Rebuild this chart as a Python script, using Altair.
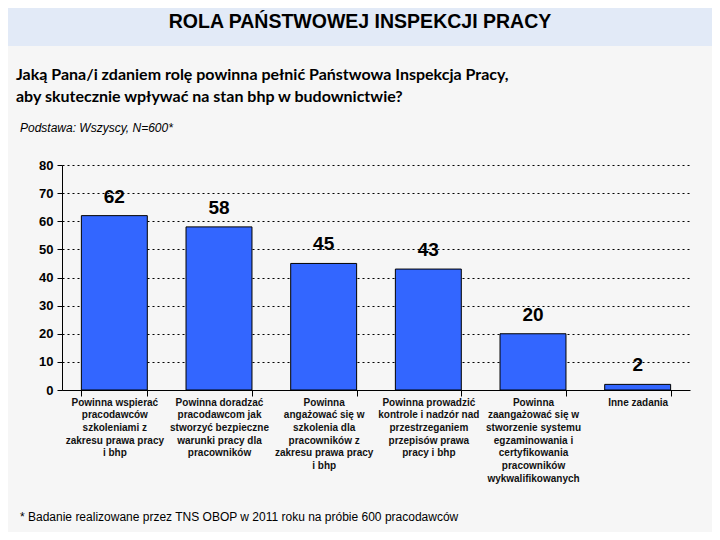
import altair as alt
import pandas as pd

categories = [
    "Powinna wspierać|pracodawców|szkoleniami z|zakresu prawa pracy|i bhp",
    "Powinna doradzać|pracodawcom jak|stworzyć bezpieczne|warunki pracy dla|pracowników",
    "Powinna|angażować się w|szkolenia dla|pracowników z|zakresu prawa pracy|i bhp",
    "Powinna prowadzić|kontrole i nadzór nad|przestrzeganiem|przepisów prawa|pracy i bhp",
    "Powinna|zaangażować się w|stworzenie systemu|egzaminowania i|certyfikowania|pracowników|wykwalifikowanych",
    "Inne zadania",
]
values = [62, 58, 45, 43, 20, 2]
y_ticks = [0, 10, 20, 30, 40, 50, 60, 70, 80]

title_text = "ROLA PAŃSTWOWEJ INSPEKCJI PRACY"
question_text = "Jaką Pana/i zdaniem rolę powinna pełnić Państwowa Inspekcja Pracy,\naby skutecznie wpływać na stan bhp w budownictwie?"
base_text = "Podstawa: Wszyscy, N=600*"
foot_text = "* Badanie realizowane przez TNS OBOP w 2011 roku na próbie 600 pracodawców"

df = pd.DataFrame({"cat": categories, "val": values})
one = pd.DataFrame({"a": [0]})

FONT = "Liberation Sans"

x_enc = alt.X(
    "cat:N", sort=None, title=None,
    scale=alt.Scale(paddingInner=0.37, paddingOuter=0.185),
    axis=alt.Axis(
        labelExpr="split(datum.label, '|')", labelAngle=0, labelFont=FONT,
        labelFontSize=10, labelFontWeight="bold", labelLineHeight=12.7,
        labelBaseline="top", labelPadding=1, labelLimit=200, labelColor="#111111",
        tickBand="extent", tickSize=6, tickColor="black", domainColor="black",
        labelOverlap=False,
    ),
)
y_enc = alt.Y(
    "val:Q", title=None,
    scale=alt.Scale(domain=[0, 80], nice=False),
    axis=alt.Axis(
        values=y_ticks, tickCount=9, labelFont=FONT, labelFontSize=13, labelFontWeight="bold",
        labelColor="black", tickSize=5, tickColor="black", domainColor="black",
        grid=True, gridDash=[2, 3], gridColor="black", gridOpacity=1, gridWidth=1,
        labelPadding=4, labelOverlap=False, labelFlush=False,
    ),
)

bars = alt.Chart(df).mark_bar(color="#3366ff", stroke="black", strokeWidth=1).encode(x=x_enc, y=y_enc)
labels = alt.Chart(df).mark_text(
    font=FONT, fontSize=19, fontWeight="bold", color="black", baseline="alphabetic", dy=-13
).encode(x=x_enc, y=y_enc, text="val:Q")

header = alt.Chart(one).mark_rect(color="#e2eaf7").encode(
    x=alt.value(-54), x2=alt.value(650), y=alt.value(-157), y2=alt.value(-119)
)
title = alt.Chart(one).mark_text(
    text=title_text, font=FONT, fontSize=19.5, fontWeight="bold", color="black", align="center", baseline="middle"
).encode(x=alt.value(298), y=alt.value(-143))
question = alt.Chart(one).mark_text(
    text=question_text, lineBreak="\n", lineHeight=22, font="Lato", fontSize=16, fontWeight="bold",
    color="black", align="left", baseline="middle"
).encode(x=alt.value(-46), y=alt.value(-90))
base = alt.Chart(one).mark_text(
    text=base_text, font=FONT, fontSize=12, fontStyle="italic", color="black", align="left", baseline="middle"
).encode(x=alt.value(-42), y=alt.value(-37))
foot = alt.Chart(one).mark_text(
    text=foot_text, font=FONT, fontSize=12, color="black", align="left", baseline="middle"
).encode(x=alt.value(-42), y=alt.value(352))

chart = alt.layer(header, title, question, base, bars, labels, foot).properties(
    width=628, height=225,
    autosize=alt.AutoSizeParams(type="none"),
    padding={"left": 54, "top": 157, "right": 22, "bottom": 142},
    background="#f6f6f6",
).configure_view(stroke=None)

chart.save("out.html", embed_options={"renderer": "svg", "actions": False})
